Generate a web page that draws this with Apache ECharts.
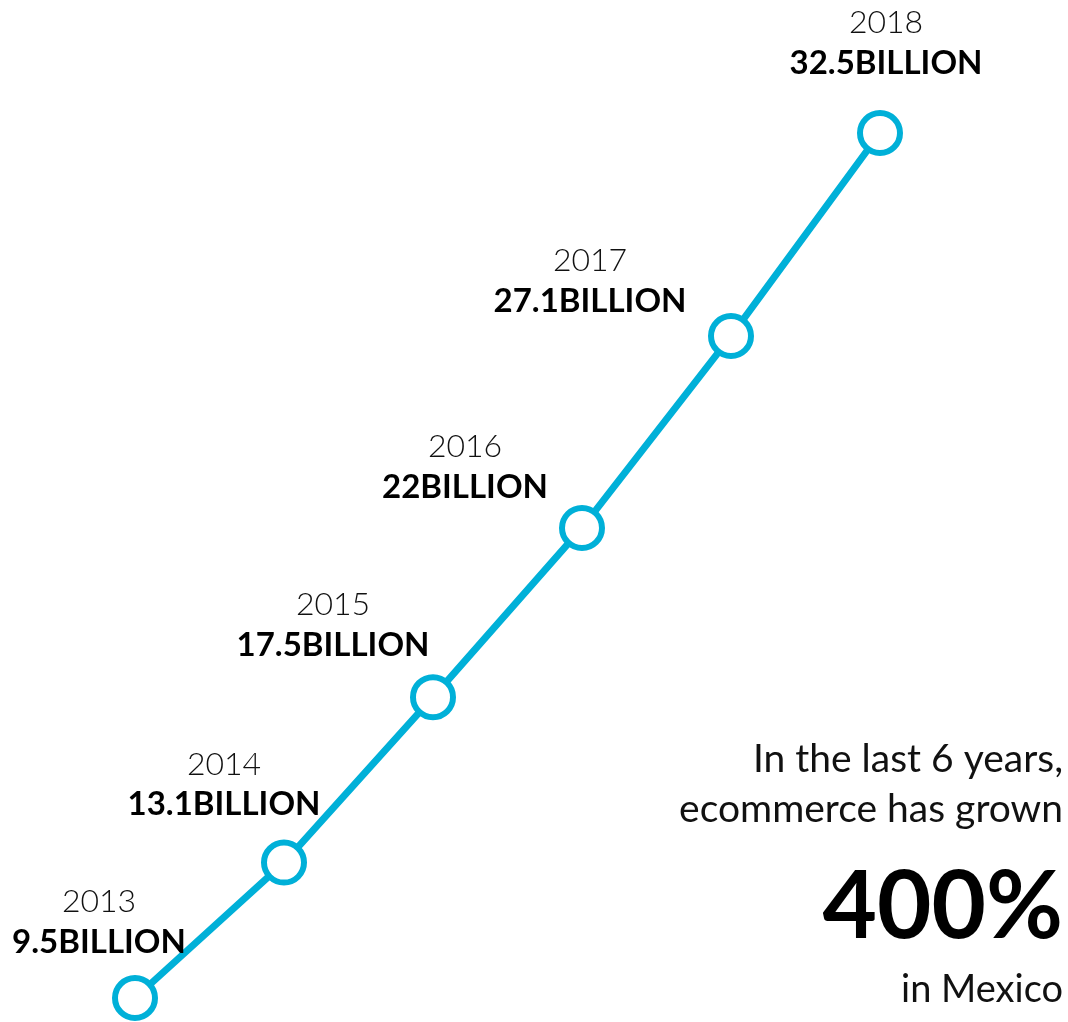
<!DOCTYPE html>
<html>
<head>
<meta charset="utf-8">
<script src="https://cdn.jsdelivr.net/npm/echarts@6/dist/echarts.min.js"></script>
<style>
html,body{margin:0;padding:0;background:#fff;}
#c{width:1068px;height:1022px;}
</style>
</head>
<body>
<div id="c"></div>
<script>
// Data
const years = ['2013', '2014', '2015', '2016', '2017', '2018'];
const valuesBillion = [9.5, 13.1, 17.5, 22, 27.1, 32.5];
const valueLabels = ['9.5BILLION', '13.1BILLION', '17.5BILLION', '22BILLION', '27.1BILLION', '32.5BILLION'];
const noteLines = ['In the last 6 years,', 'ecommerce has grown'];
const growthText = '400%';
const placeText = 'in Mexico';

// Style
const lineColor = '#00b0d8';
const labelOffsets = [[-36, -8], [-60, -10], [-100, -4], [-117, 7], [-141, 13], [6, -22]];
const font = 'Lato, "Open Sans", sans-serif';

const chart = echarts.init(document.getElementById('c'), null, {renderer: 'canvas'});

const seriesData = valuesBillion.map((v, i) => ({
  value: v,
  label: {
    offset: labelOffsets[i],
    formatter: '{y|' + years[i] + '}\n{v|' + valueLabels[i] + '}'
  }
}));

chart.setOption({
  backgroundColor: '#ffffff',
  animation: false,
  grid: {left: 135, right: 188, top: 133, bottom: 24},
  xAxis: {
    type: 'category',
    data: years,
    boundaryGap: false,
    show: false
  },
  yAxis: {
    type: 'value',
    min: 9.5,
    max: 32.5,
    show: false
  },
  series: [{
    type: 'line',
    data: seriesData,
    clip: false,
    lineStyle: {color: lineColor, width: 7},
    symbol: 'circle',
    symbolSize: 40,
    itemStyle: {color: '#ffffff', borderColor: lineColor, borderWidth: 6},
    label: {
      show: true,
      position: 'top',
      distance: 5,
      align: 'center',
      rich: {
        y: {fontFamily: font, fontWeight: 300, fontSize: 32, color: '#111', lineHeight: 40, align: 'center'},
        v: {fontFamily: font, fontWeight: 'bold', fontSize: 33, color: '#000', lineHeight: 40, align: 'center'}
      }
    }
  }],
  graphic: [
    {type: 'text', right: 5, top: 740, style: {text: noteLines[0], font: '39px ' + font, fill: '#111', textAlign: 'right'}},
    {type: 'text', right: 5, top: 790, style: {text: noteLines[1], font: '39px ' + font, fill: '#111', textAlign: 'right'}},
    {type: 'text', right: 5, top: 861, style: {text: growthText, font: 'bold 94px ' + font, fill: '#000', textAlign: 'right'}},
    {type: 'text', right: 5, top: 971, style: {text: placeText, font: '38px ' + font, fill: '#111', textAlign: 'right'}}
  ]
});
</script>
</body>
</html>
